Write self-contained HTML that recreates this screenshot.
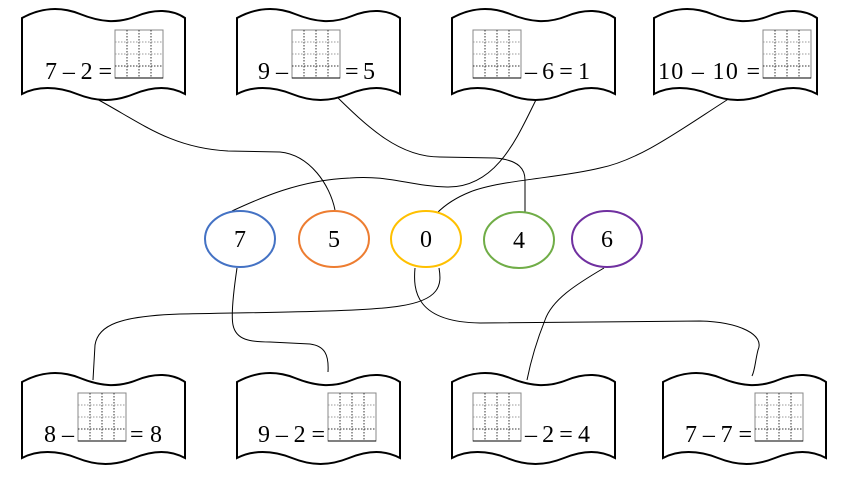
<!DOCTYPE html>
<html><head><meta charset="utf-8"><style>
html,body{margin:0;padding:0;background:#fff;}
svg{display:block;}
text{font-family:"Liberation Serif","Times New Roman",serif;font-size:24px;fill:#000;}
</style></head><body>
<svg width="862" height="482" viewBox="0 0 862 482" xmlns="http://www.w3.org/2000/svg">
<defs>
<g id="box">
<path d="M0,12 C18,2 38,0 58,8 C78,16 95,18 115,10 C132,3 150,3 163,12 L163,88 C148,80 132,80 112,88 C92,96 75,96 55,88 C35,80 15,80 0,88 Z" fill="#fff" stroke="#000" stroke-width="2"/>
</g>
<g id="grid">
<rect x="0" y="0" width="48" height="48" fill="#fff" stroke="#888" stroke-width="1"/>
<g stroke="#333" stroke-width="1" stroke-dasharray="1.5,1.5">
<line x1="12" y1="0" x2="12" y2="48"/><line x1="24" y1="0" x2="24" y2="48"/><line x1="36" y1="0" x2="36" y2="48"/>
</g>
<g stroke="#999" stroke-width="1" stroke-dasharray="1.5,1.5">
<line x1="0" y1="12" x2="48" y2="12"/><line x1="0" y1="24" x2="48" y2="24"/>
</g>
<line x1="0" y1="36" x2="48" y2="36" stroke="#333" stroke-dasharray="1.5,1.5"/>
<line x1="0" y1="48" x2="48" y2="48" stroke="#000"/>
</g>
</defs>

<g fill="none" stroke="#000" stroke-width="1">
<path d="M95,98 C140,122 170,148 228,151 L280,152 C310,155 330,185 335,210"/>
<path d="M330,90 C370,130 400,157 440,157 L495,158 C520,160 525,170 525,180 L525,212"/>
<path d="M540,92 C520,130 500,188 447,187 C410,186 390,175 350,178 C300,180 260,198 232,211"/>
<path d="M730,98 C680,130 640,160 600,168 C560,178 500,180 470,192 C455,198 445,205 437,213"/>
<path d="M237,268 C233,295 231,315 233,325 C236,340 250,342 270,342 L310,344 C325,346 329,355 328,372"/>
<path d="M439,268 C442,285 440,300 400,306 C370,311 300,312 180,314 C120,316 98,325 95,345 L93,380"/>
<path d="M415,268 C413,290 415,322 480,323 L700,321 C740,322 765,335 758,350 C755,362 755,370 752,376"/>
<path d="M604,268 C575,285 552,300 545,320 C535,345 530,365 527,380"/>
</g>

<use href="#box" x="22" y="6"/>
<use href="#grid" x="115" y="30"/>
<text x="45" y="79" textLength="67" lengthAdjust="spacing">7 – 2 =</text>

<use href="#box" x="237" y="6"/>
<text x="258" y="79" textLength="30" lengthAdjust="spacing">9 –</text>
<use href="#grid" x="292" y="30"/>
<text x="345" y="79" textLength="30" lengthAdjust="spacing">= 5</text>

<use href="#box" x="452" y="6"/>
<use href="#grid" x="473" y="30"/>
<text x="525" y="79" textLength="65" lengthAdjust="spacing">– 6 = 1</text>

<use href="#box" x="654" y="6"/>
<text x="658" y="79" textLength="102" lengthAdjust="spacing">10 – 10 =</text>
<use href="#grid" x="763" y="30"/>

<use href="#box" x="22" y="370"/>
<text x="44" y="442" textLength="30" lengthAdjust="spacing">8 –</text>
<use href="#grid" x="78" y="393"/>
<text x="130" y="442" textLength="32" lengthAdjust="spacing">= 8</text>

<use href="#box" x="237" y="370"/>
<text x="258" y="442" textLength="67" lengthAdjust="spacing">9 – 2 =</text>
<use href="#grid" x="328" y="393"/>

<use href="#box" x="452" y="370"/>
<use href="#grid" x="473" y="393"/>
<text x="525" y="442" textLength="65" lengthAdjust="spacing">– 2 = 4</text>

<use href="#box" x="663" y="370"/>
<text x="685" y="442" textLength="67" lengthAdjust="spacing">7 – 7 =</text>
<use href="#grid" x="755" y="393"/>

<g fill="#fff" stroke-width="2">
<ellipse cx="240" cy="239" rx="35" ry="28" stroke="#4472C4"/>
<ellipse cx="334" cy="239" rx="35" ry="28" stroke="#ED7D31"/>
<ellipse cx="426" cy="239" rx="35" ry="28" stroke="#FFC000"/>
<ellipse cx="519" cy="240" rx="35" ry="28" stroke="#70AD47"/>
<ellipse cx="607" cy="239" rx="35" ry="28" stroke="#7030A0"/>
</g>
<g text-anchor="middle">
<text x="240" y="247">7</text>
<text x="334" y="247">5</text>
<text x="426" y="247">0</text>
<text x="519" y="248">4</text>
<text x="607" y="247">6</text>
</g>
</svg>
</body></html>
